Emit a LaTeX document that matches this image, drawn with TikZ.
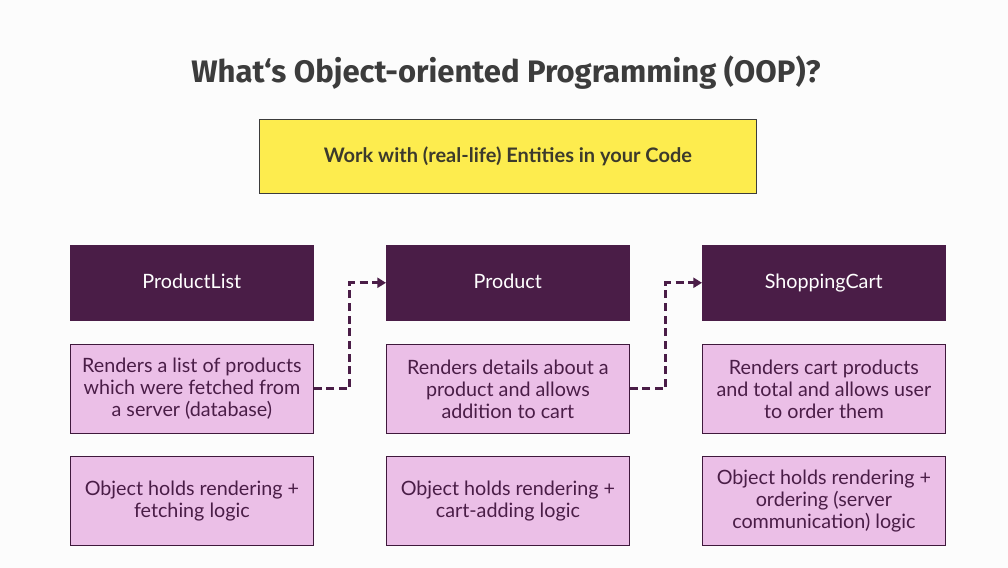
\documentclass[tikz,border=0pt]{standalone}
\usepackage{fontspec}
\setmainfont{Lato}
\newfontfamily\titlefont{Fira Sans}
\usetikzlibrary{arrows.meta}
\definecolor{bgc}{HTML}{FCFCFC}
\definecolor{titlec}{HTML}{3C3C3C}
\definecolor{yel}{HTML}{FDEC4E}
\definecolor{yeltext}{HTML}{3C3A2C}
\definecolor{plum}{HTML}{4A1D47}
\definecolor{lilac}{HTML}{EBBFE7}
\tikzset{
  x=0.75pt, y=-0.75pt,
  darkbox/.style={draw=plum, fill=plum, text=white, minimum width=243*0.75pt, minimum height=75*0.75pt, inner sep=0pt, text height=11pt, text depth=3pt, font=\fontsize{14.8}{16.5}\selectfont, anchor=north west},
  lightbox/.style={draw=plum!85!black, line width=0.6pt, fill=lilac, text=plum, minimum width=243*0.75pt, minimum height=89*0.75pt, inner sep=0pt, align=center, font=\fontsize{14.8}{16.5}\selectfont, anchor=north west},
  yelbox/.style={draw=titlec, line width=0.6pt, fill=yel, text=yeltext, minimum width=497*0.75pt, minimum height=74*0.75pt, inner sep=0pt, font=\fontsize{15}{17}\selectfont\bfseries, anchor=north west},
  flow/.style={draw=plum, line width=2.3pt, dash pattern=on 6pt off 3.5pt, -{Triangle[length=6.5pt,width=7.5pt]}},
}
\begin{document}
\begin{tikzpicture}
\fill[bgc] (0,0) rectangle (1008,568);
\useasboundingbox (0,0) rectangle (1008,568);
\node[text=titlec, font=\titlefont\bfseries\fontsize{23.3}{26}\selectfont] (title) at (506,73) {What‘s Object-oriented Programming (OOP)?};
\node[yelbox] (entities) at (259,119) {Work with (real-life) Entities in your Code};

\node[darkbox] (pl) at (70,245) {ProductList};
\node[darkbox] (p) at (386,245) {Product};
\node[darkbox] (sc) at (702,245) {ShoppingCart};

\node[lightbox] (pld) at (70,344) {Renders a list of products\\which were fetched from\\a server (database)};
\node[lightbox] (pd) at (386,344) {Renders details about a\\product and allows\\addition to cart};
\node[lightbox] (scd) at (702,344) {Renders cart products\\and total and allows user\\to order them};

\node[lightbox] (plo) at (70,456) {Object holds rendering +\\fetching logic};
\node[lightbox] (po) at (386,456) {Object holds rendering +\\cart-adding logic};
\node[lightbox] (sco) at (702,456) {Object holds rendering +\\ordering (server\\communication) logic};

\draw[flow] (pld.east) -- ++(36,0) |- (p.west);
\draw[flow] (pd.east) -- ++(36,0) |- (sc.west);
\end{tikzpicture}
\end{document}
